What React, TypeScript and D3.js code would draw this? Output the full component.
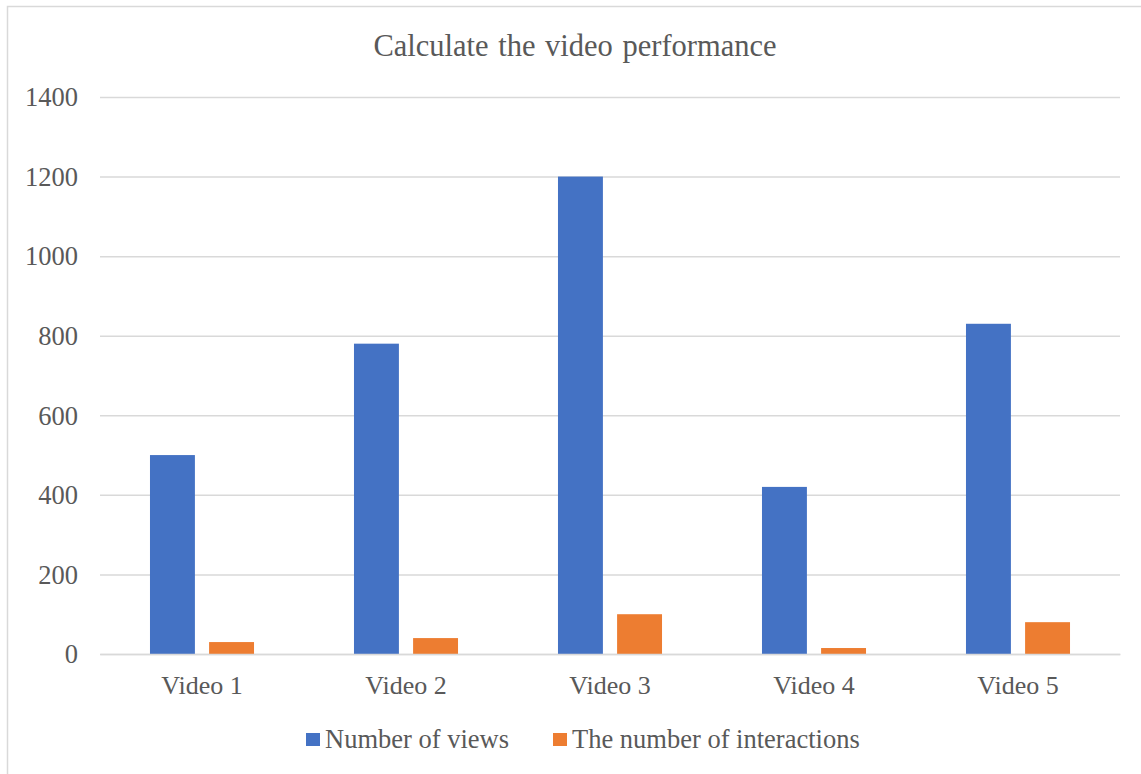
import React, { useEffect, useRef } from 'react';
import { select, scaleBand, scaleLinear, axisLeft, axisBottom } from 'd3';

const categories = ['Video 1', 'Video 2', 'Video 3', 'Video 4', 'Video 5'];
const seriesNames = ['Number of views', 'The number of interactions'];
const views = [500, 780, 1200, 420, 830];
const interactions = [30, 40, 100, 15, 80];
const yTicks = [0, 200, 400, 600, 800, 1000, 1200, 1400];
const colors = ['#4472C4', '#ED7D31'];

const width = 1141;
const height = 774;
const font = '"Liberation Serif", "Times New Roman", serif';
const textColor = '#595959';
const gridColor = '#d9d9d9';

const drawChart = (node: SVGSVGElement) => {
  const svg = select(node);
  svg.selectAll('*').remove();

  const plot = { left: 100, right: 1120, top: 97, bottom: 654 };

  svg.append('rect')
    .attr('x', 7.5)
    .attr('y', 6.5)
    .attr('width', width + 10)
    .attr('height', height + 10)
    .attr('fill', '#fff')
    .attr('stroke', gridColor)
    .attr('stroke-width', 1.5);

  svg.append('text')
    .attr('x', 575)
    .attr('y', 56)
    .attr('text-anchor', 'middle')
    .style('font-family', font)
    .style('font-size', '30.5px')
    .style('word-spacing', '2px')
    .attr('fill', textColor)
    .text('Calculate the video performance');

  const x0 = scaleBand()
    .domain(categories)
    .range([plot.left, plot.right])
    .paddingInner(0.49)
    .paddingOuter(0.245);

  const x1 = scaleBand()
    .domain(seriesNames)
    .range([0, x0.bandwidth()])
    .paddingInner(0.24);

  const y = scaleLinear()
    .domain([0, 1400])
    .range([plot.bottom, plot.top]);

  // gridlines + y labels
  const yAxis = svg.append('g')
    .attr('transform', `translate(${plot.left},0)`)
    .call(axisLeft(y).tickValues(yTicks).tickFormat(d => String(d)).tickSize(-(plot.right - plot.left)).tickPadding(22));
  yAxis.select('.domain').remove();
  yAxis.selectAll('.tick line')
    .attr('stroke', gridColor)
    .attr('stroke-width', 1.5);
  yAxis.selectAll('.tick text')
    .style('font-family', font)
    .style('font-size', '26.5px')
    .attr('fill', textColor)
    .attr('dy', '0.33em');

  const seriesValues = [views, interactions];
  const groups = svg.append('g')
    .selectAll('g')
    .data(categories)
    .enter()
    .append('g')
    .attr('transform', d => `translate(${x0(d)},0)`);

  groups.selectAll('rect')
    .data((d, i) => seriesNames.map((s, j) => ({ s, v: seriesValues[j][i], j })))
    .enter()
    .append('rect')
    .attr('x', d => x1(d.s) as number)
    .attr('y', d => y(d.v))
    .attr('width', x1.bandwidth())
    .attr('height', d => plot.bottom - y(d.v))
    .attr('fill', d => colors[d.j]);

  // baseline + category labels
  const xAxis = svg.append('g')
    .attr('transform', `translate(0,${plot.bottom})`)
    .call(axisBottom(x0).tickSize(0).tickPadding(22));
  xAxis.select('.domain')
    .attr('stroke', gridColor)
    .attr('stroke-width', 1.5);
  xAxis.selectAll('.tick text')
    .style('font-family', font)
    .style('font-size', '26px')
    .attr('fill', textColor);

  // legend
  const legendX = [306, 553];
  const legend = svg.append('g')
    .selectAll('g')
    .data(seriesNames)
    .enter()
    .append('g')
    .attr('transform', (d, i) => `translate(${legendX[i]},733)`);
  legend.append('rect')
    .attr('width', 14)
    .attr('height', 13)
    .attr('fill', (d, i) => colors[i]);
  legend.append('text')
    .attr('x', 19)
    .attr('y', 15)
    .style('font-family', font)
    .style('font-size', '26.5px')
    .attr('fill', textColor)
    .text(d => d);
};

export default function App() {
  const ref = useRef<SVGSVGElement>(null);
  useEffect(() => {
    if (ref.current) drawChart(ref.current);
  }, []);
  return (
    <svg
      ref={ref}
      width={width}
      height={height}
      style={{ position: 'absolute', left: 0, top: 0, background: '#fff' }}
    />
  );
}
